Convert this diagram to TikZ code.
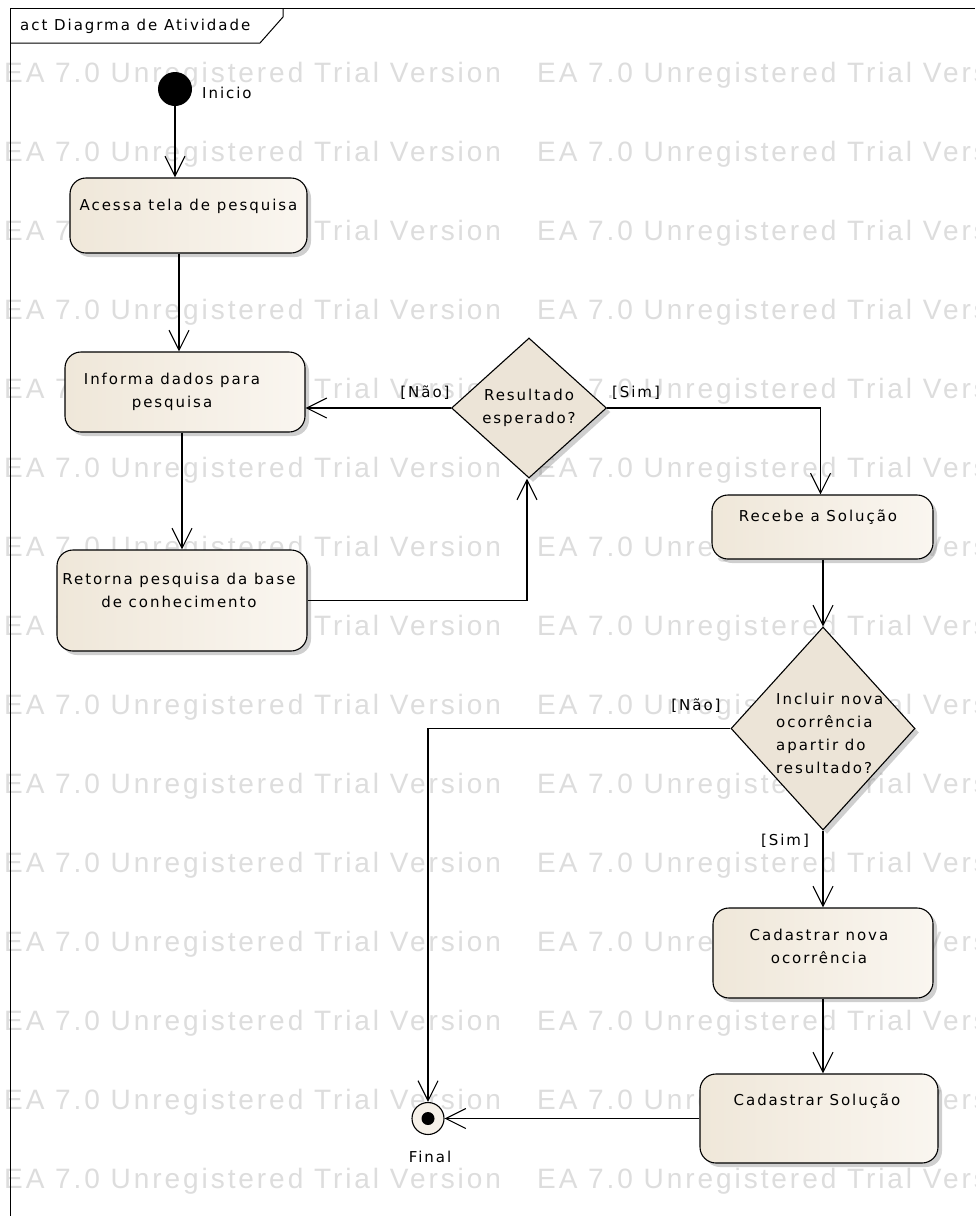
\documentclass[tikz,border=0pt]{standalone}
\usepackage{fontspec}
\newfontfamily\eafont[LetterSpace=13]{DejaVu Sans}
\newfontfamily\wmfont[LetterSpace=10.5]{Liberation Sans}
\usetikzlibrary{arrows.meta,shapes.geometric,shadows}
\definecolor{boxL}{RGB}{239,231,217}
\definecolor{boxR}{RGB}{250,246,240}
\definecolor{dfill}{RGB}{236,228,215}
\definecolor{wmgray}{RGB}{221,221,221}
\definecolor{shadowc}{RGB}{120,120,120}
\definecolor{finfill}{RGB}{246,241,233}
\begin{document}
\begin{tikzpicture}[x=1pt,y=-1pt,
  lbl/.style={font=\eafont\fontsize{15}{23}\selectfont, inner sep=0pt, align=center, text=black},
  eashadow/.style={drop shadow={shadow xshift=4pt, shadow yshift=-4pt, opacity=0.35, fill=shadowc}},
  actbox/.style={draw=black, line width=1.1pt, rounded corners=16pt, left color=boxL, right color=boxR, inner sep=0pt, eashadow},
  dec/.style={draw=black, line width=1.1pt, diamond, inner sep=0pt, fill=dfill, eashadow},
  arr/.style={draw=black, line width=1.1pt, -{Straight Barb[length=20pt,width=20pt]}},
  wm/.style={font=\wmfont\fontsize{28}{30}\selectfont, text=wmgray, inner sep=0pt, anchor=base west},
]
\clip (0,0) rectangle (975,1216);
\fill[white] (0,0) rectangle (975,1216);

% watermark
\foreach \r in {0,...,14}{
  \node[wm] (wmA\r) at (4,{82+79*\r}) {EA 7.0 Unregistered Trial Version};
  \node[wm] (wmB\r) at (537,{82+79*\r}) {EA 7.0 Unregistered Trial Version};
}

% frame
\draw[line width=1pt] (10,1216) -- (10,8) -- (975,8);
\draw[line width=1pt] (10,43) -- (260,43) -- (283,17) -- (283,8);
\node[lbl, anchor=west] (title) at (20,26) {act Diagrma de Atividade};

% nodes
\node[circle, fill=black, minimum size=34pt, inner sep=0pt] (init) at (175,89) {};
\node[lbl, anchor=west] (initL) at (202,93) {Inicio};

\node[actbox, minimum width=237pt, minimum height=75pt] (acessa) at (188.5,215.5) {};
\node[lbl] (acessaT) at (188.5,206) {Acessa tela de pesquisa};

\node[actbox, minimum width=240pt, minimum height=80pt] (informa) at (185,392) {};
\node[lbl] (informaT) at (172,392) {Informa dados para\\pesquisa};

\node[actbox, minimum width=250pt, minimum height=101pt] (retorna) at (182,600.5) {};
\node[lbl] (retornaT) at (179,590) {Retorna pesquisa da base\\de conhecimento};

\node[dec, minimum width=155pt, minimum height=140pt] (d1) at (529,408) {};
\node[lbl] (d1T) at (529,408) {Resultado\\esperado?};
\node[lbl] (naoA) at (425,393) {[Não]};
\node[lbl] (simA) at (636,393) {[Sim]};

\node[actbox, minimum width=221pt, minimum height=64pt] (recebe) at (822.5,527) {};
\node[lbl] (recebeT) at (818,517) {Recebe a Solução};

\node[dec, minimum width=184pt, minimum height=203pt] (d2) at (823,728.5) {};
\node[lbl, align=left, anchor=west] (d2T) at (776,733) {Incluir nova\\ocorrência\\apartir do\\resultado?};
\node[lbl] (naoB) at (696,706) {[Não]};
\node[lbl] (simB) at (785,841) {[Sim]};

\node[actbox, minimum width=220pt, minimum height=90pt] (cadnova) at (823,953) {};
\node[lbl] (cadnovaT) at (819,946) {Cadastrar nova\\ocorrência};

\node[actbox, minimum width=238pt, minimum height=89pt] (cadsol) at (819,1118.5) {};
\node[lbl] (cadsolT) at (817,1101) {Cadastrar Solução};

\node[circle, draw=black, line width=1.1pt, fill=finfill, minimum size=32pt, inner sep=0pt] (final) at (428,1118.5) {};
\fill[black] (final.center) circle (6.5pt);
\node[lbl] (finalL) at (430,1157) {Final};

% connectors
\draw[arr] (init.south) -- (init.south |- acessa.north);
\draw[arr] ([xshift=-9.5pt]acessa.south) -- ([xshift=-9.5pt]acessa.south |- informa.north);
\draw[arr] ([xshift=-3pt]informa.south) -- ([xshift=-3pt]informa.south |- retorna.north);
\draw[arr] (retorna.east) -| ([xshift=-2pt]d1.south);
\draw[arr] (d1.west) -- (d1.west -| informa.east);
\draw[arr] (d1.east) -| ([xshift=-2pt]recebe.north);
\draw[arr] (recebe.south -| d2.north) -- (d2.north);
\draw[arr] (d2.west) -| (final.north);
\draw[arr] (d2.south) -- (d2.south |- cadnova.north);
\draw[arr] (cadnova.south) -- (cadnova.south |- cadsol.north);
\draw[arr] (cadsol.west) -- (final.east);
\end{tikzpicture}
\end{document}
